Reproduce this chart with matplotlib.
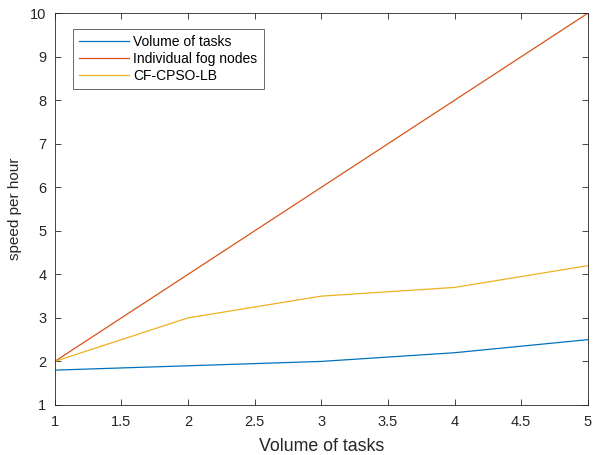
import matplotlib
matplotlib.use("Agg")
import matplotlib.pyplot as plt

# data
tasks = [1, 2, 3, 4, 5]
volume_of_tasks = [1.8, 1.9, 2.0, 2.2, 2.5]
individual_fog = [2, 4, 6, 8, 10]
cf_cpso_lb = [2, 3, 3.5, 3.7, 4.2]

plt.rcParams['font.family'] = ['Liberation Sans', 'DejaVu Sans']

fig = plt.figure(figsize=(5.95, 4.55), dpi=100)
ax = fig.add_axes([0.092, 0.11, 0.896, 0.861])

ax.plot(tasks, volume_of_tasks, color='#0072BD', lw=0.9, label='Volume of tasks')
ax.plot(tasks, individual_fog, color='#D95319', lw=0.9, label='Individual fog nodes')
ax.plot(tasks, cf_cpso_lb, color='#EDB120', lw=0.9, label='CF-CPSO-LB')

ax.set_xlim(1, 5)
ax.set_ylim(1, 10)
ax.set_xticks([1, 1.5, 2, 2.5, 3, 3.5, 4, 4.5, 5])
ax.set_xticklabels(['1', '1.5', '2', '2.5', '3', '3.5', '4', '4.5', '5'])
ax.set_yticks(range(1, 11))

ax.tick_params(direction='in', top=True, right=True, labelsize=10.5,
               colors='#262626', length=4, width=0.6)
ax.tick_params(axis='x', pad=7)
ax.tick_params(axis='y', pad=6)
for s in ax.spines.values():
    s.set_color('#262626')
    s.set_linewidth(0.6)

ax.set_xlabel('Volume of tasks', fontsize=12.8, color='#262626', labelpad=7)
ax.set_ylabel('speed per hour', fontsize=11, color='#262626', labelpad=6)

leg = ax.legend(loc='upper left', bbox_to_anchor=(0.034, 0.96), fontsize=10,
                frameon=True, fancybox=False, edgecolor='#262626',
                handlelength=3.6, handletextpad=0.3, borderpad=0.45,
                labelspacing=0.22, borderaxespad=0)
leg.get_frame().set_linewidth(0.6)

fig.savefig('out.png', dpi=100)
